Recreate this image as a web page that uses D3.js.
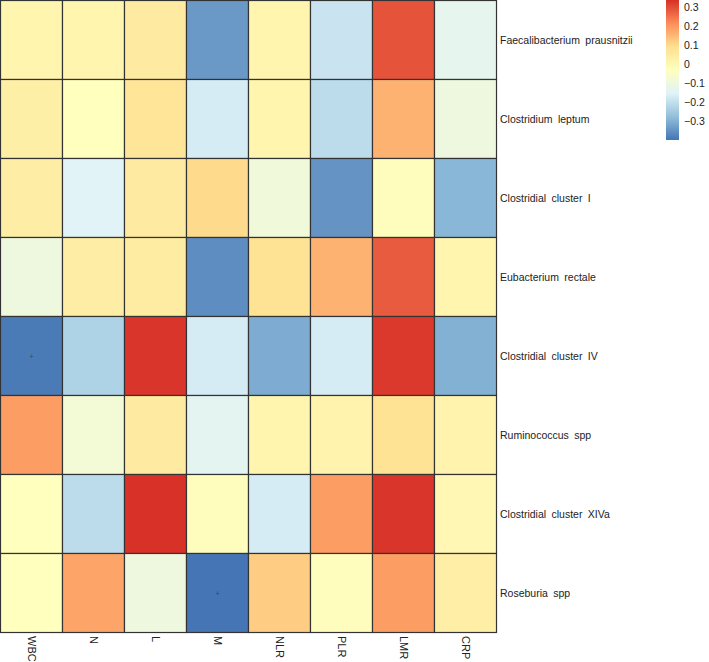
<!DOCTYPE html>
<html>
<head>
<meta charset="utf-8">
<script src="https://cdn.jsdelivr.net/npm/d3@7"></script>
<style>
  body { margin: 0; background: #fff; }
  svg { display: block; }
  text { font-family: "Liberation Sans", Arial, Helvetica, sans-serif; fill: #222; }
</style>
</head>
<body>
<svg id="chart" width="709" height="662"></svg>
<script>
const rows = ["Faecalibacterium prausnitzii", "Clostridium leptum", "Clostridial cluster I",
  "Eubacterium rectale", "Clostridial cluster IV", "Ruminococcus spp",
  "Clostridial cluster XIVa", "Roseburia spp"];
const cols = ["WBC", "N", "L", "M", "NLR", "PLR", "LMR", "CRP"];
const values = [
  [0.01, 0.01, 0.05, -0.34, 0.01, -0.19, 0.29, -0.13],
  [0.03, -0.03, 0.07, -0.17, 0.01, -0.21, 0.16, -0.10],
  [0.04, -0.15, 0.05, 0.10, -0.09, -0.35, -0.025, -0.29],
  [-0.10, 0.04, 0.045, -0.36, 0.08, 0.16, 0.28, 0.01],
  [-0.39, -0.23, 0.33, -0.17, -0.31, -0.17, 0.325, -0.30],
  [0.19, -0.08, 0.05, -0.14, 0.01, 0.015, 0.08, 0.015],
  [-0.03, -0.21, 0.335, -0.025, -0.17, 0.19, 0.33, 0.0],
  [-0.03, 0.18, -0.10, -0.40, 0.12, -0.025, 0.19, 0.035]
];
const marks = [["Clostridial cluster IV", "WBC"], ["Roseburia spp", "M"]];
const legendTicks = [0.3, 0.2, 0.1, 0, -0.1, -0.2, -0.3];
const valueMin = -0.4, valueMax = 0.337;
const palette = ["#4575B4", "#91BFDB", "#E0F3F8", "#FFFFBF", "#FEE090", "#FC8D59", "#D73027"];

const svg = d3.select("#chart");
const x = d3.scaleBand().domain(cols).range([0.5, 496.5]).padding(0);
const y = d3.scaleBand().domain(rows).range([0.5, 632.5]).padding(0);
const color = d3.scaleLinear()
  .domain(palette.map((_, i) => valueMin + (valueMax - valueMin) * i / (palette.length - 1)))
  .range(palette).interpolate(d3.interpolateRgb).clamp(true);

const cells = [];
rows.forEach((r, i) => cols.forEach((c, j) => cells.push({r, c, v: values[i][j]})));

svg.append("g").selectAll("rect").data(cells).join("rect")
  .attr("x", d => x(d.c)).attr("y", d => y(d.r))
  .attr("width", x.bandwidth()).attr("height", y.bandwidth())
  .attr("fill", d => color(d.v))
  .attr("stroke", "#333").attr("stroke-width", 1.2);

svg.append("g").selectAll("text").data(marks).join("text")
  .attr("x", d => x(d[1]) + x.bandwidth() / 2)
  .attr("y", d => y(d[0]) + y.bandwidth() / 2)
  .attr("text-anchor", "middle").attr("dominant-baseline", "central")
  .style("font-size", "7px").style("fill", "#444").text("+");

// row labels
svg.append("g").selectAll("text").data(rows).join("text")
  .attr("x", 500).attr("y", d => y(d) + y.bandwidth() / 2)
  .attr("dominant-baseline", "central")
  .style("font-size", "10.5px").style("word-spacing", "2.5px")
  .text(d => d);

// column labels
svg.append("g").selectAll("text").data(cols).join("text")
  .attr("transform", d => `translate(${x(d) + x.bandwidth() / 2},636) rotate(90)`)
  .attr("dominant-baseline", "central")
  .style("font-size", "11px")
  .text(d => d);

// legend
const ly = d3.scaleLinear().domain([valueMin, valueMax]).range([140, 0]);
const defs = svg.append("defs");
const grad = defs.append("linearGradient").attr("id", "lg")
  .attr("x1", 0).attr("y1", 1).attr("x2", 0).attr("y2", 0);
palette.forEach((p, i) => grad.append("stop")
  .attr("offset", i / (palette.length - 1)).attr("stop-color", p));
svg.append("rect").attr("x", 666).attr("y", ly(valueMax)).attr("width", 13)
  .attr("height", ly(valueMin) - ly(valueMax)).attr("fill", "url(#lg)");
svg.append("g").selectAll("text").data(legendTicks).join("text")
  .attr("x", 684).attr("y", d => ly(d))
  .attr("dominant-baseline", "central")
  .style("font-size", "10.5px")
  .text(d => d < 0 ? "\u2212" + Math.abs(d) : String(d));
</script>
</body>
</html>
